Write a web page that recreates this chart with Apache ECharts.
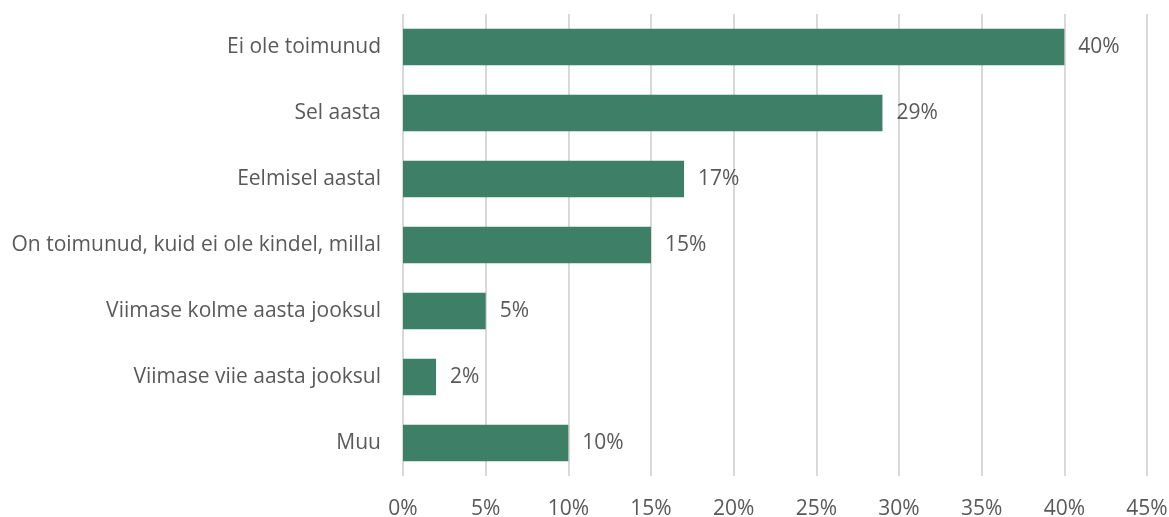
<!DOCTYPE html>
<html>
<head>
<meta charset="utf-8">
<script src="https://cdn.jsdelivr.net/npm/echarts@6/dist/echarts.min.js"></script>
<style>
  html, body { margin: 0; padding: 0; background: #fff; }
  #container { width: 1169px; height: 517px; }
</style>
</head>
<body>
<div id="container"></div>
<script>
// categories top to bottom, values in percent
var categories = [
	'Ei ole toimunud',
	'Sel aasta',
	'Eelmisel aastal',
	'On toimunud, kuid ei ole kindel, millal',
	'Viimase kolme aasta jooksul',
	'Viimase viie aasta jooksul',
	'Muu'
];
var values = [40, 29, 17, 15, 5, 2, 10];
var xTicks = [0, 5, 10, 15, 20, 25, 30, 35, 40, 45];

var fontName = '"Open Sans", sans-serif';
var textColor = '#595959';

var dom = document.getElementById('container');
var chart = echarts.init(dom);

var option = {
	animation: false,
	grid: {
		left: 403,
		right: 22,
		top: 14,
		bottom: 41,
		outerBoundsMode: 'none'
	},
	xAxis: {
		type: 'value',
		min: xTicks[0],
		max: xTicks[xTicks.length - 1],
		interval: 5,
		axisLine: { show: false },
		axisTick: { show: false },
		splitLine: { lineStyle: { color: '#d9d9d9', width: 2 } },
		axisLabel: {
			color: textColor,
			fontFamily: fontName,
			fontSize: 21,
			margin: 23,
			formatter: '{value}%'
		}
	},
	yAxis: {
		type: 'category',
		inverse: true,
		data: categories,
		axisLine: { show: false },
		axisTick: { show: false },
		axisLabel: {
			color: textColor,
			fontFamily: fontName,
			fontSize: 21,
			margin: 22,
			padding: [4, 0, 0, 0]
		}
	},
	series: [{
		type: 'bar',
		data: values,
		barWidth: '55%',
		itemStyle: { color: '#3e7f67' },
		label: {
			show: true,
			position: 'right',
			distance: 14,
			padding: [4, 0, 0, 0],
			color: textColor,
			fontFamily: fontName,
			fontSize: 21,
			formatter: '{c}%'
		}
	}]
};

chart.setOption(option);
</script>
</body>
</html>
